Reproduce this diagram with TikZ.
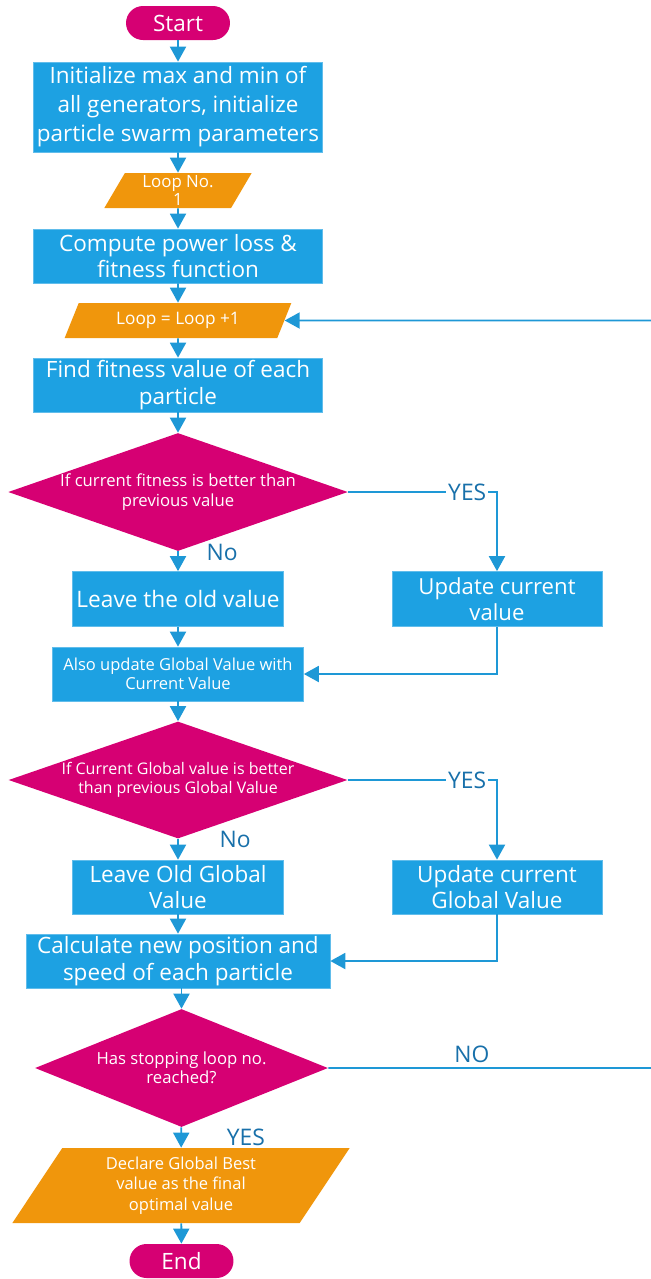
\documentclass[tikz,border=0pt]{standalone}
\usepackage{fontspec}
\setmainfont{Open Sans}
\usetikzlibrary{shapes.geometric,arrows.meta}
\definecolor{boxblue}{RGB}{29,161,226}
\definecolor{lineblue}{RGB}{30,152,214}
\definecolor{pinkred}{RGB}{214,0,115}
\definecolor{loopor}{RGB}{240,150,12}
\definecolor{lblblue}{RGB}{24,112,170}

\begin{document}
\begin{tikzpicture}[x=0.02cm, y=-0.02cm,
  proc/.style={rectangle, fill=boxblue, draw=boxblue!70!white, line width=0.4pt, text=white, align=center, inner sep=0pt},
  term/.style={rectangle, rounded corners=0.34cm, fill=pinkred, text=white, minimum width=2.08cm, minimum height=0.68cm, font=\fontsize{12.8}{15}\selectfont},
  dec/.style={diamond, fill=pinkred, text=white, align=center, inner sep=0pt, font=\fontsize{9.5}{11}\selectfont},
  io/.style={trapezium, trapezium stretches=true, fill=loopor, text=white, align=center, inner sep=0pt},
  line/.style={draw=lineblue, line width=1.1pt, -{Triangle[width=0.32cm,length=0.3cm]}},
  lbl/.style={text=lblblue, fill=white, inner sep=1pt, font=\fontsize{13}{15}\selectfont}]
\useasboundingbox (0,0) rectangle (651,1279);

\node[term] (start) at (178,23) {Start};
\node[proc, minimum width=5.78cm, minimum height=1.8cm, font=\fontsize{12.8}{16.5}\selectfont] (init) at (178,107) {Initialize max and min of\\all generators, initialize\\particle swarm parameters};
\node[io, trapezium left angle=65, trapezium right angle=115, minimum width=2.96cm, minimum height=0.7cm, font=\fontsize{9.6}{10}\selectfont] (loopone) at (178,190.5) {Loop No.\\1};
\node[proc, minimum width=5.78cm, minimum height=1.08cm, font=\fontsize{12.8}{15}\selectfont] (power) at (178,256) {Compute power loss \&\\fitness function};
\node[io, trapezium left angle=62, trapezium right angle=118, minimum width=4.56cm, minimum height=0.7cm, font=\fontsize{9.8}{11}\selectfont] (loopinc) at (178,320.5) {Loop = Loop +1};
\node[proc, minimum width=5.78cm, minimum height=1.08cm, font=\fontsize{12.8}{15}\selectfont] (fitval) at (178,385) {Find fitness value of each\\particle};
\node[dec, aspect=2.88, minimum width=6.78cm, minimum height=2.36cm] (dia1) at (178,492) {If current fitness is better than\\previous value};
\node[proc, minimum width=4.22cm, minimum height=1.1cm, font=\fontsize{12.9}{15}\selectfont] (oldval) at (178,599) {Leave the old value};
\node[proc, minimum width=4.2cm, minimum height=1.1cm, font=\fontsize{12.6}{15}\selectfont] (updcur) at (497,599) {Update current\\value};
\node[proc, minimum width=5.02cm, minimum height=1.08cm, font=\fontsize{9.4}{11}\selectfont] (alsoupd) at (178,674) {Also update Global Value with\\Current Value};
\node[dec, aspect=2.88, minimum width=6.78cm, minimum height=2.34cm, font=\fontsize{9.1}{11}\selectfont] (dia2) at (178,780) {If Current Global value is better\\than previous Global Value};
\node[proc, minimum width=4.22cm, minimum height=1.08cm, font=\fontsize{12.8}{15}\selectfont] (oldglob) at (178,887) {Leave Old Global\\Value};
\node[proc, minimum width=4.2cm, minimum height=1.08cm, font=\fontsize{12.8}{15}\selectfont] (updglob) at (497,887) {Update current\\Global Value};
\node[proc, minimum width=6.08cm, minimum height=1.08cm, font=\fontsize{12.8}{15}\selectfont] (newpos) at (178,961) {Calculate new position and\\speed of each particle};
\node[dec, aspect=2.48, minimum width=5.86cm, minimum height=2.36cm] (dia3) at (181.5,1068) {Has stopping loop no.\\reached?};
\node[io, trapezium left angle=61, trapezium right angle=119, minimum width=6.76cm, minimum height=1.5cm, font=\fontsize{9.4}{11.5}\selectfont] (final) at (181,1185.5) {Declare Global Best\\value as the final\\optimal value};
\node[term] (stop) at (181.5,1261) {End};

\coordinate (backlow) at (662,1068);
\coordinate (backtop) at (662,320.5);

\draw[line] (start) -- (init);
\draw[line] (init) -- (loopone);
\draw[line] (loopone) -- (power);
\draw[line] (power) -- (loopinc);
\draw[line] (loopinc) -- (fitval);
\draw[line] (fitval) -- (dia1);
\draw[line] (dia1) -- node[lbl, pos=0.05, anchor=west, xshift=0.52cm]{No} (oldval);
\draw[line] (dia1.east) -- node[lbl, pos=0.8]{YES} (dia1.east -| updcur) -- (updcur);
\draw[line] (oldval) -- (alsoupd);
\draw[line] (updcur) |- (alsoupd);
\draw[line] (alsoupd) -- (dia2);
\draw[line] (dia2) -- node[lbl, pos=0.05, anchor=west, xshift=0.78cm]{No} (oldglob);
\draw[line] (dia2.east) -- node[lbl, pos=0.8]{YES} (dia2.east -| updglob) -- (updglob);
\draw[line] (oldglob) -- (newpos);
\draw[line] (updglob) |- (newpos);
\draw[line] (newpos.south -| dia3.north) -- (dia3.north);
\draw[line] (dia3) -- node[lbl, pos=0.5, anchor=west, xshift=0.86cm]{YES} (final);
\draw[line] (final) -- (stop);
\draw[line] (dia3.east) -- node[lbl, fill=none, pos=0.43, above=0.06cm]{NO} (backlow) -- (backtop) -- (loopinc.east);
\end{tikzpicture}
\end{document}
